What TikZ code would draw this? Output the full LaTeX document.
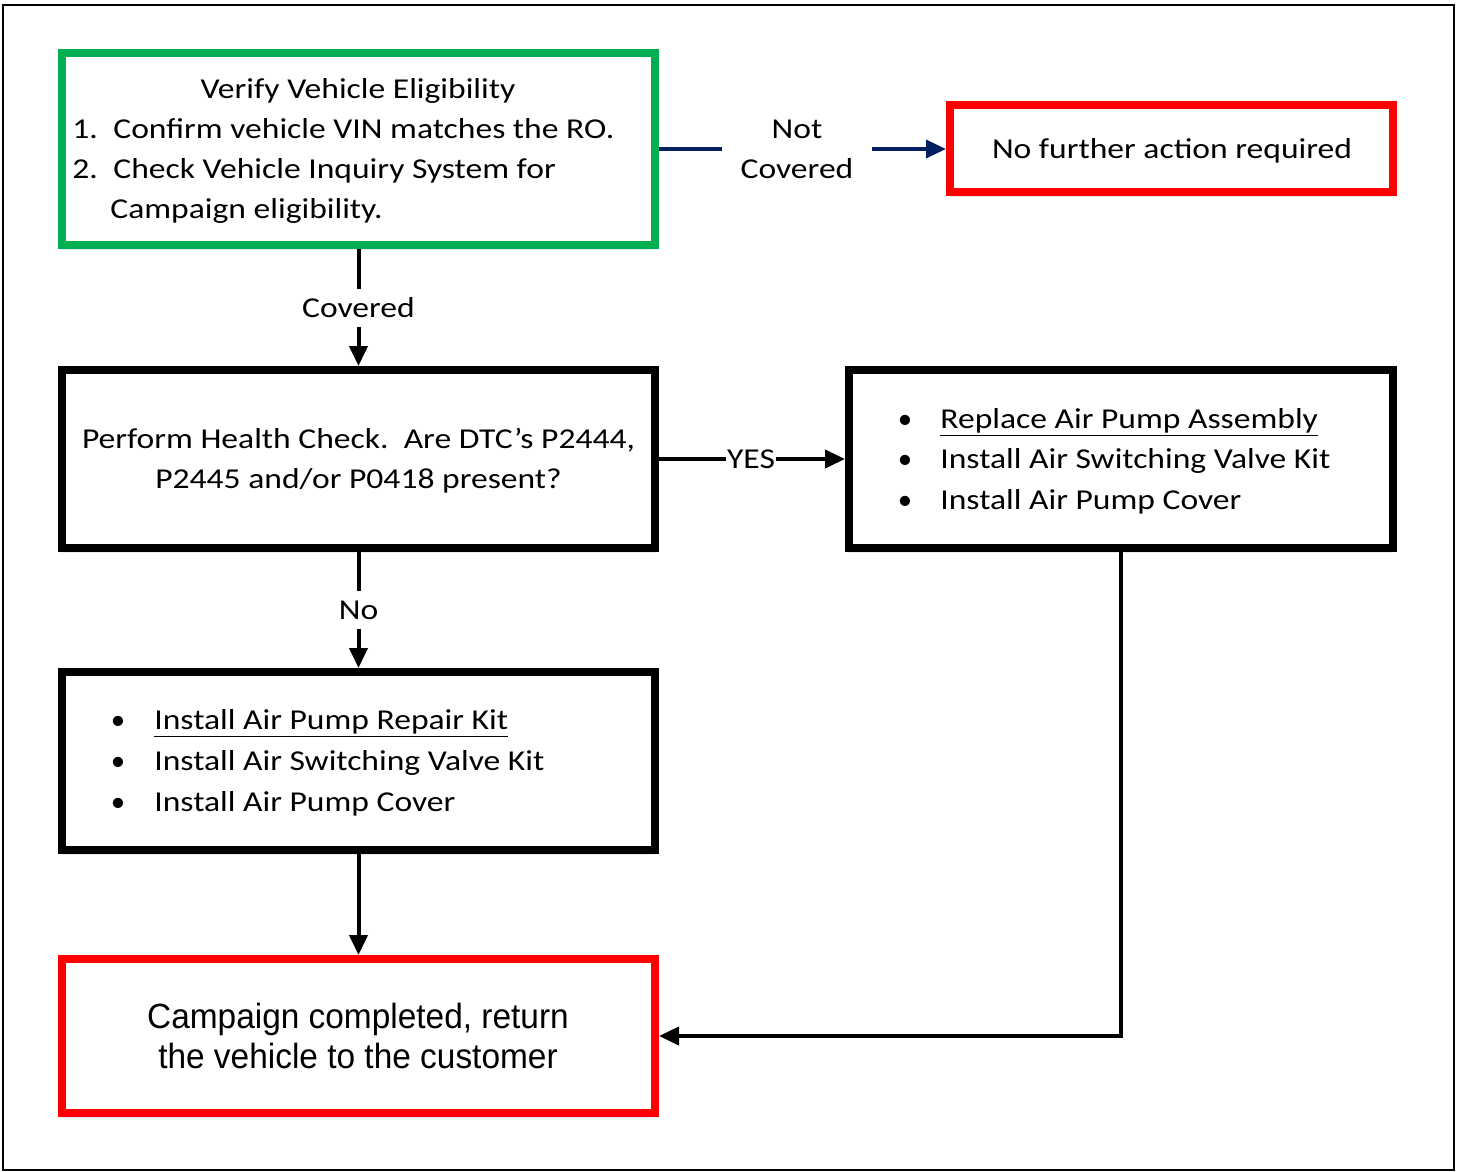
\documentclass[tikz,border=0pt]{standalone}
\usepackage{fontspec}
\usepackage{graphicx}
\setmainfont{Carlito}
\newfontfamily\arialf{Liberation Sans}
\usetikzlibrary{arrows.meta,shadows}
\definecolor{boxgreen}{HTML}{00B050}
\definecolor{boxred}{HTML}{FF0000}
\definecolor{navyline}{HTML}{002060}
\definecolor{shadowblue}{HTML}{DCE6F2}
\newcommand\wider[1]{\scalebox{1.166}[1]{#1}}
\newcommand\narrowr[1]{\scalebox{0.955}[1]{#1}}
\begin{document}
\begin{tikzpicture}[x=0.5pt,y=-0.5pt,
  boxnode/.style={draw, fill=white, line width=4pt, minimum width=296.5pt, inner sep=0pt,
    drop shadow={shadow xshift=0pt, shadow yshift=-2.5pt, fill=shadowblue, opacity=0.8}},
  txt/.style={font=\fontsize{14.4}{20}\selectfont, inner sep=0pt, anchor=base},
  txtw/.style={txt, anchor=base west},
  lbl/.style={font=\fontsize{14.4}{20}\selectfont, inner sep=0pt, align=center},
  conn/.style={line width=2pt, black},
  arr/.style={conn, -{Triangle[length=10pt,width=9pt]}}
]
\useasboundingbox (0,0) rectangle (1458,1172);
\draw[line width=1pt] (3,5) rectangle (1454,1170);

% boxes
\node[boxnode, draw=boxgreen, minimum height=96pt] (verify) at (358.5,149) {};
\node[boxnode, draw=boxred, minimum width=221.5pt, minimum height=43.5pt] (nofurther) at (1171.5,149) {};
\node[boxnode, minimum height=89pt] (health) at (358.5,459) {};
\node[boxnode, minimum width=272pt, minimum height=89pt] (replace) at (1121,459) {};
\node[boxnode, minimum height=89pt] (repair) at (358.5,761) {};
\node[boxnode, draw=boxred, minimum height=77pt] (done) at (358.5,1036) {};

% texts in verify box
\node[txt] (v0) at (358,99) {\wider{Verify Vehicle Eligibility}};
\node[txtw] (v1n) at (72,139) {\wider{1.}};
\node[txtw] (v1) at (113,139) {\wider{Confirm vehicle VIN matches the RO.}};
\node[txtw] (v2n) at (72,179) {\wider{2.}};
\node[txtw] (v2) at (113,179) {\wider{Check Vehicle Inquiry System for}};
\node[txtw] (v3) at (110,219) {\wider{Campaign eligibility.}};

% no further action
\node[txt] (nf) at (1172,159) {\wider{No further action required}};

% health check
\node[txt] (h1) at (358.5,448) {\wider{Perform Health Check.\ \ Are DTC’s P2444,}};
\node[txt] (h2) at (358.5,488) {\wider{P2445 and/or P0418 present?}};

% replace box
\node[txt] (rb1) at (905,428) {\textbullet};
\node[txtw] (r1) at (940,428) {\wider{\underline{Replace Air Pump Assembly}}};
\node[txt] (rb2) at (905,468) {\textbullet};
\node[txtw] (r2) at (940,468) {\wider{Install Air Switching Valve Kit}};
\node[txt] (rb3) at (905,509) {\textbullet};
\node[txtw] (r3) at (940,509) {\wider{Install Air Pump Cover}};

% repair box
\node[txt] (pb1) at (118,729) {\textbullet};
\node[txtw] (p1) at (154,729) {\wider{\underline{Install Air Pump Repair Kit}}};
\node[txt] (pb2) at (118,770) {\textbullet};
\node[txtw] (p2) at (154,770) {\wider{Install Air Switching Valve Kit}};
\node[txt] (pb3) at (118,811) {\textbullet};
\node[txtw] (p3) at (154,811) {\wider{Install Air Pump Cover}};

% done box
\node[txt, font=\arialf\fontsize{17.5}{20}\selectfont] (d1) at (358,1028) {\narrowr{Campaign completed, return}};
\node[txt, font=\arialf\fontsize{17.5}{20}\selectfont] (d2) at (358,1068) {\narrowr{the vehicle to the customer}};

% labels on connectors
\node[lbl, minimum width=75pt] (notcov) at (797,149) {\wider{Not}\\\wider{Covered}};
\node[lbl, minimum height=19pt] (cov) at (358.5,308) {\wider{Covered}};
\node[lbl, inner xsep=0.5pt] (yes) at (751,459) {\wider{YES}};
\node[lbl, minimum height=19pt] (no) at (358.5,610) {\wider{No}};

% connectors
\draw[line width=1.75pt, navyline] (verify.east) -- (notcov.west);
\draw[line width=1.75pt, navyline, -{Triangle[length=10pt,width=9pt]}] (notcov.east) -- (nofurther.west);
\draw[conn] (verify.south) -- (cov.north);
\draw[arr] (cov.south) -- (health.north);
\draw[conn] (health.east) -- (yes.west);
\draw[arr] (yes.east) -- (replace.west);
\draw[conn] (health.south) -- (no.north);
\draw[arr] (no.south) -- (repair.north);
\draw[arr] (repair.south) -- (done.north);
\draw[arr] (replace.south) |- (done.east);
\end{tikzpicture}
\end{document}
